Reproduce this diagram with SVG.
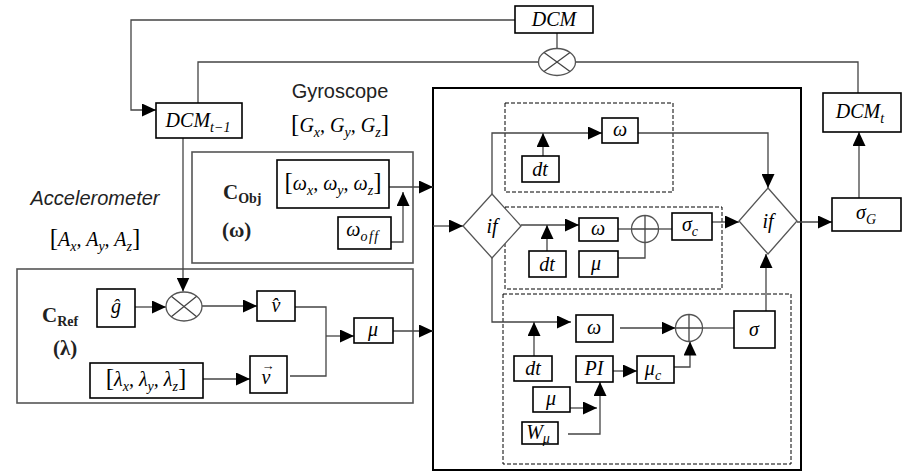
<svg xmlns="http://www.w3.org/2000/svg" width="902" height="471" viewBox="0 0 902 471">
<defs>
<marker id="ah" markerUnits="userSpaceOnUse" markerWidth="15" markerHeight="13" refX="14" refY="6.5" orient="auto">
<path d="M0,0 L14,6.5 L0,13 z" fill="#000"/>
</marker>
<style>
.bx{fill:#fff;stroke:#000;stroke-width:1.6}
.gbx{fill:none;stroke:#555;stroke-width:1.6}
.big{fill:none;stroke:#000;stroke-width:2}
.dash{fill:none;stroke:#000;stroke-width:1;stroke-dasharray:4,2}
.ln{fill:none;stroke:#444;stroke-width:1.3}
.ar{fill:none;stroke:#444;stroke-width:1.3;marker-end:url(#ah)}
.sh{fill:#fff;stroke:#555;stroke-width:1.3}
.m{font-family:"Liberation Serif","DejaVu Serif",serif;font-style:italic;font-size:20px;fill:#000;text-anchor:middle}
.s{font-size:14px}
.br{font-size:25px;font-style:normal}
.sans{font-family:"Liberation Sans",Arial,sans-serif;font-size:20px;fill:#222;text-anchor:middle}
.bd{font-family:"Liberation Serif","DejaVu Serif",serif;font-weight:bold;font-size:21px;fill:#222}
.bs{font-size:14px}
</style>
</defs>
<rect width="902" height="471" fill="#fff"/>

<g id="frames">
<rect class="big" x="433" y="88" width="368" height="382"/>
<rect class="gbx" x="192" y="152" width="221" height="111"/>
<rect class="gbx" x="17" y="269" width="396" height="134"/>
<rect class="dash" x="505" y="103" width="168" height="89"/>
<rect class="dash" x="505" y="207" width="217" height="82"/>
<rect class="dash" x="503" y="294" width="288" height="170"/>
</g>

<g id="connectors">
<path class="ar" d="M515,20 H131 V110 H156"/>
<path class="ln" d="M557,33 V48.5"/>
<path class="ln" d="M198,103 V62 H538.5"/>
<path class="ln" d="M575.5,62 H858 V93"/>
<path class="ar" d="M859,198 V132"/>
<path class="ar" d="M797,222 H832"/>
<path class="ar" d="M183,138 V291.5"/>
<path class="ar" d="M389,187 H433"/>
<path class="ar" d="M391,242 H403 V192"/>
<path class="ar" d="M135,307 H166"/>
<path class="ar" d="M202,306 H257"/>
<path class="ar" d="M203,379 H250"/>
<path class="ln" d="M295,307 H326 V376 H290"/>
<path class="ar" d="M326,336 H354"/>
<path class="ar" d="M393,331 H433"/>
<path class="ar" d="M433,226 H463"/>
<path class="ar" d="M492,194 V133 H602"/>
<path class="ar" d="M543,156 V133"/>
<path class="ar" d="M638,133 H768 V188"/>
<path class="ar" d="M521,225 H579"/>
<path class="ar" d="M547,251 V225"/>
<path class="ln" d="M618,229 H631.5"/>
<path class="ln" d="M618,258 H645 V242.5"/>
<path class="ln" d="M658.5,229 H672"/>
<path class="ar" d="M712,222 H739"/>
<path class="ar" d="M492,258 V322 H571"/>
<path class="ar" d="M620,328 H675.5"/>
<path class="ln" d="M702.5,328 H734"/>
<path class="ar" d="M766,311 V254"/>
<path class="ar" d="M534,356 V322"/>
<path class="ar" d="M613,371 H637"/>
<path class="ar" d="M674,367 H690 V341.5"/>
<path class="ar" d="M570,408 H597"/>
<path class="ar" d="M568,434 H600 V382"/>
</g>

<g id="labels">
<text class="sans" x="340" y="98">Gyroscope</text>
<text class="m" x="340" y="132"><tspan class="br">[</tspan><tspan>G</tspan><tspan class="s" dy="5">x</tspan><tspan dy="-5">, G</tspan><tspan class="s" dy="5">y</tspan><tspan dy="-5">, G</tspan><tspan class="s" dy="5">z</tspan><tspan class="br" dy="-5">]</tspan></text>
<text class="sans" x="95" y="205" font-style="italic">Accelerometer</text>
<text class="m" x="95" y="246"><tspan class="br">[</tspan><tspan>A</tspan><tspan class="s" dy="5">x</tspan><tspan dy="-5">, A</tspan><tspan class="s" dy="5">y</tspan><tspan dy="-5">, A</tspan><tspan class="s" dy="5">z</tspan><tspan class="br" dy="-5">]</tspan></text>
<text class="bd" x="223" y="199">C<tspan class="bs" dy="4">Obj</tspan></text>
<text class="bd" x="222" y="237">(ω)</text>
<text class="bd" x="42" y="322">C<tspan class="bs" dy="4">Ref</tspan></text>
<text class="bd" x="53" y="355">(λ)</text>
</g>

<g id="n-dcm"><rect class="bx" x="515" y="6" width="78" height="27"/><text class="m" x="554" y="26">DCM</text></g>
<g id="n-mul-top"><ellipse class="sh" cx="557" cy="62" rx="18.5" ry="13.5"/><path class="ln" d="M544,52.5 L570,71.5 M544,71.5 L570,52.5"/></g>
<g id="n-dcm-t1"><rect class="bx" x="156" y="103" width="86" height="35"/><text class="m" x="198" y="127">DCM<tspan class="s" dy="5">t−1</tspan></text></g>
<g id="n-dcm-t"><rect class="bx" x="823" y="93" width="78" height="39"/><text class="m" x="860" y="118">DCM<tspan class="s" dy="5">t</tspan></text></g>
<g id="n-sigmaG"><rect class="bx" x="832" y="198" width="69" height="33"/><text class="m" x="866" y="219">σ<tspan class="s" dy="5">G</tspan></text></g>

<g id="n-omega-vec"><rect class="bx" x="277" y="160" width="112" height="48"/><text class="m" x="333" y="190"><tspan class="br">[</tspan><tspan>ω</tspan><tspan class="s" dy="5">x</tspan><tspan dy="-5">, ω</tspan><tspan class="s" dy="5">y</tspan><tspan dy="-5">, ω</tspan><tspan class="s" dy="5">z</tspan><tspan class="br" dy="-5">]</tspan></text></g>
<g id="n-omega-off"><rect class="bx" x="338" y="217" width="53" height="32"/><text class="m" x="363" y="236">ω<tspan class="s" dy="5" letter-spacing="1.5">off</tspan></text></g>

<g id="n-mul-ref"><ellipse class="sh" cx="184" cy="306.5" rx="18" ry="14.5"/><path class="ln" d="M171.3,296.3 L196.7,316.7 M171.3,316.7 L196.7,296.3"/></g>
<g id="n-ghat"><rect class="bx" x="97" y="289" width="38" height="38"/><text class="m" x="116" y="313">ĝ</text></g>
<g id="n-vhat"><rect class="bx" x="257" y="291" width="38" height="30"/><text class="m" x="276" y="312">v̂</text></g>
<g id="n-lambda"><rect class="bx" x="90" y="363" width="113" height="35"/><text class="m" x="146" y="386"><tspan class="br">[</tspan><tspan>λ</tspan><tspan class="s" dy="5">x</tspan><tspan dy="-5">, λ</tspan><tspan class="s" dy="5">y</tspan><tspan dy="-5">, λ</tspan><tspan class="s" dy="5">z</tspan><tspan class="br" dy="-5">]</tspan></text></g>
<g id="n-vvec"><rect class="bx" x="250" y="356" width="37" height="37"/><text class="m" x="268" y="384" font-size="22">v<tspan font-size="13" font-style="normal" dx="-9" dy="-14">→</tspan></text></g>
<g id="n-mu-ref"><rect class="bx" x="354" y="318" width="39" height="25"/><text class="m" x="373" y="336">μ</text></g>

<g id="n-if1"><polygon class="sh" points="492,194 521,226 492,258 463,226"/><text class="m" x="492" y="233" font-size="22">if</text></g>
<g id="n-if2"><polygon class="sh" points="768,188 797,221 768,254 739,221"/><text class="m" x="768" y="228" font-size="22">if</text></g>

<g id="n-omega1"><rect class="bx" x="602" y="118" width="36" height="25"/><text class="m" x="620" y="136">ω</text></g>
<g id="n-dt1"><rect class="bx" x="522" y="156" width="37" height="26"/><text class="m" x="540" y="176">dt</text></g>

<g id="n-omega2"><rect class="bx" x="579" y="218" width="39" height="23"/><text class="m" x="598" y="235">ω</text></g>
<g id="n-dt2"><rect class="bx" x="529" y="251" width="37" height="26"/><text class="m" x="547" y="271">dt</text></g>
<g id="n-mu2"><rect class="bx" x="579" y="251" width="39" height="26"/><text class="m" x="596" y="270">μ</text></g>
<g id="n-add1"><circle class="sh" cx="645" cy="229" r="13.5"/><path class="ln" d="M631.5,229 H658.5 M645,215.5 V242.5"/></g>
<g id="n-sigmac"><rect class="bx" x="672" y="213" width="40" height="27"/><text class="m" x="690" y="231">σ<tspan class="s" dy="5">c</tspan></text></g>

<g id="n-omega3"><rect class="bx" x="576" y="315" width="37" height="27"/><text class="m" x="594" y="334">ω</text></g>
<g id="n-add2"><circle class="sh" cx="689" cy="328" r="13.5"/><path class="ln" d="M675.5,328 H702.5 M689,314.5 V341.5"/></g>
<g id="n-sigma"><rect class="bx" x="734" y="311" width="41" height="37"/><text class="m" x="754" y="336">σ</text></g>
<g id="n-dt3"><rect class="bx" x="514" y="356" width="38" height="25"/><text class="m" x="533" y="375">dt</text></g>
<g id="n-pi"><rect class="bx" x="576" y="356" width="37" height="26"/><text class="m" x="594" y="375">PI</text></g>
<g id="n-muc"><rect class="bx" x="637" y="356" width="37" height="27"/><text class="m" x="653" y="375">μ<tspan class="s" dy="5">c</tspan></text></g>
<g id="n-mu3"><rect class="bx" x="533" y="387" width="37" height="25"/><text class="m" x="551" y="405">μ</text></g>
<g id="n-wmu"><rect class="bx" x="522" y="422" width="36" height="22"/><text class="m" x="538" y="439">W<tspan class="s" dy="4">μ</tspan></text></g>
</svg>
